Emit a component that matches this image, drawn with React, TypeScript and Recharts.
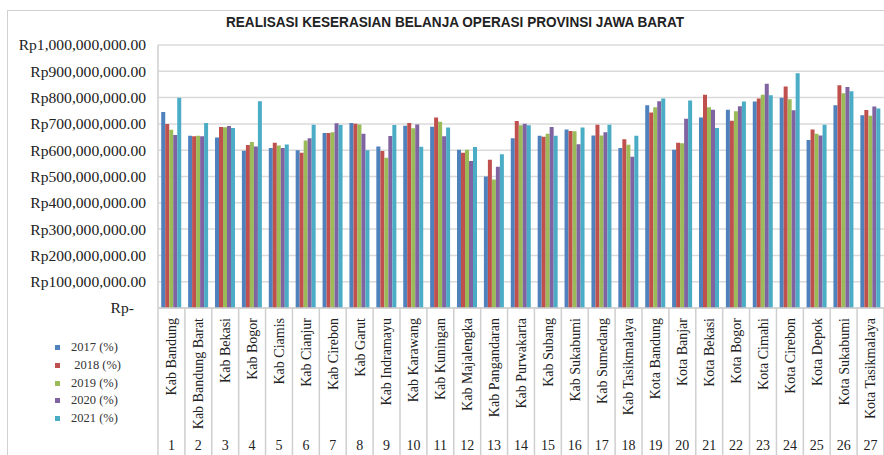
import { BarChart, Bar, XAxis, YAxis, CartesianGrid, Legend } from "recharts";

const regions = [
  "Kab Bandung", "Kab Bandung Barat", "Kab Bekasi", "Kab Bogor", "Kab Ciamis", "Kab Cianjur",
  "Kab Cirebon", "Kab Garut", "Kab Indramayu", "Kab Karawang", "Kab Kuningan", "Kab Majalengka",
  "Kab Pangandaran", "Kab Purwakarta", "Kab Subang", "Kab Sukabumi", "Kab Sumedang", "Kab Tasikmalaya",
  "Kota Bandung", "Kota Banjar", "Kota Bekasi", "Kota Bogor", "Kota Cimahi", "Kota Cirebon",
  "Kota Depok", "Kota Sukabumi", "Kota Tasikmalaya",
];

// values in millions of rupiah
const y2017 = [745, 655, 648, 598, 608, 600, 665, 703, 614, 693, 689, 602, 500, 645, 655, 679, 656, 608, 771, 602, 724, 754, 785, 799, 639, 771, 733];
const y2018 = [700, 653, 688, 620, 628, 590, 665, 701, 597, 703, 724, 590, 564, 711, 651, 673, 697, 642, 743, 628, 811, 712, 797, 842, 679, 847, 753];
const y2019 = [678, 655, 687, 631, 618, 637, 668, 698, 571, 683, 708, 602, 489, 695, 663, 672, 656, 621, 763, 626, 763, 748, 811, 794, 663, 817, 731];
const y2020 = [658, 653, 692, 614, 608, 645, 702, 663, 654, 698, 653, 559, 537, 701, 688, 623, 668, 575, 786, 720, 754, 767, 853, 752, 656, 840, 766];
const y2021 = [799, 703, 684, 786, 622, 697, 696, 600, 696, 613, 686, 612, 585, 695, 655, 686, 697, 655, 797, 789, 684, 785, 809, 893, 697, 824, 759];

const seriesNames = ["2017 (%)", " 2018 (%)", "2019 (%)", "2020 (%)", "2021 (%)"];
const seriesKeys = ["y2017", "y2018", "y2019", "y2020", "y2021"];
const colors = ["#4F81BD", "#C0504D", "#9BBB59", "#8064A2", "#4BACC6"];
const yTicks = [0, 100, 200, 300, 400, 500, 600, 700, 800, 900, 1000].map(v => v * 1e6);

const data = regions.map((name, i) => ({
  name,
  y2017: y2017[i] * 1e6,
  y2018: y2018[i] * 1e6,
  y2019: y2019[i] * 1e6,
  y2020: y2020[i] * 1e6,
  y2021: y2021[i] * 1e6,
}));

const serif = "'Liberation Serif', 'Times New Roman', serif";
const W = 884;
const H = 455;
const plotLeft = 158;
const plotTop = 45;
const plotBottom = 308;
const band = (W - plotLeft) / regions.length;

const fmtRp = (v: number) => (v === 0 ? "Rp-" : "Rp" + v.toLocaleString("en-US") + ".00");

const YTick = (props: any) => {
  const { x, y, payload } = props;
  const shift = payload.value === 0 ? -12 : 0;
  return (
    <text x={x + shift} y={y} dy="0.35em" textAnchor="end" fontFamily={serif} fontSize={15.6} fill="#222">
      {fmtRp(payload.value)}
    </text>
  );
};

const XTick = (props: any) => {
  const { x, y, payload, index } = props;
  const left = x - band / 2;
  const right = x + band / 2;
  return (
    <g>
      <line x1={left} y1={y} x2={left} y2={H} stroke="#cfcfcf" strokeWidth={1.5} />
      {index === regions.length - 1 && <line x1={right} y1={y} x2={right} y2={H} stroke="#cfcfcf" strokeWidth={1.5} />}
      <text
        x={x}
        y={y + 10}
        dy="0.35em"
        transform={`rotate(-90, ${x}, ${y + 10})`}
        textAnchor="end"
        fontFamily={serif}
        fontSize={14}
        fill="#222"
      >
        {payload.value}
      </text>
      <text x={x} y={y + 142} textAnchor="middle" fontFamily={serif} fontSize={14} fill="#222">
        {index + 1}
      </text>
    </g>
  );
};

const renderLegend = () => (
  <div style={{ fontFamily: serif, fontSize: 12.5, color: "#333" }}>
    {seriesNames.map((n, i) => (
      <div key={n} style={{ display: "flex", alignItems: "center", height: 17.7 }}>
        <span style={{ width: 5, height: 5, background: colors[i], marginRight: 11, display: "inline-block" }} />
        <span style={{ whiteSpace: "pre" }}>{n}</span>
      </div>
    ))}
  </div>
);

export default function App() {
  return (
    <div style={{ position: "absolute", left: 0, top: 0, width: W, height: H, overflow: "hidden", background: "#fff" }}>
      <div
        style={{
          position: "absolute",
          left: 7,
          top: 10,
          width: W,
          height: H,
          borderLeft: "1px solid #d0d0d0",
          borderTop: "1px solid #d0d0d0",
        }}
      />
      <svg width={W} height={40} style={{ position: "absolute", left: 0, top: 0 }}>
        <text
          x={455}
          y={27}
          textAnchor="middle"
          textLength={458}
          lengthAdjust="spacingAndGlyphs"
          fontFamily="'Liberation Sans Narrow', 'Liberation Sans', sans-serif"
          fontWeight="bold"
          fontSize={14}
          fill="#222"
        >
          REALISASI KESERASIAN BELANJA OPERASI PROVINSI JAWA BARAT
        </text>
      </svg>
      <div style={{ position: "absolute", left: 0, top: 0 }}>
        <BarChart
          width={W}
          height={H}
          data={data}
          margin={{ top: plotTop, right: 0, left: 0, bottom: 0 }}
          barCategoryGap="12%"
          barGap={0}
        >
          <CartesianGrid vertical={false} stroke="#dadada" strokeWidth={1.5} />
          <YAxis
            width={plotLeft}
            domain={[0, 1e9]}
            ticks={yTicks}
            interval={0}
            tickLine={false}
            tickSize={0}
            tickMargin={12}
            axisLine={{ stroke: "#cfcfcf", strokeWidth: 1.5 }}
            tick={<YTick />}
          />
          <XAxis
            dataKey="name"
            height={H - plotBottom}
            interval={0}
            tickLine={false}
            tickSize={0}
            tickMargin={0}
            axisLine={{ stroke: "#cfcfcf", strokeWidth: 1.5 }}
            tick={<XTick />}
          />
          <Legend
            layout="vertical"
            align="center"
            verticalAlign="middle"
            content={renderLegend}
            wrapperStyle={{ position: "absolute", left: 55, top: 339, width: 100 }}
          />
          {seriesKeys.map((k, i) => (
            <Bar key={k} dataKey={k} name={seriesNames[i]} fill={colors[i]} isAnimationActive={false} />
          ))}
        </BarChart>
      </div>
    </div>
  );
}
